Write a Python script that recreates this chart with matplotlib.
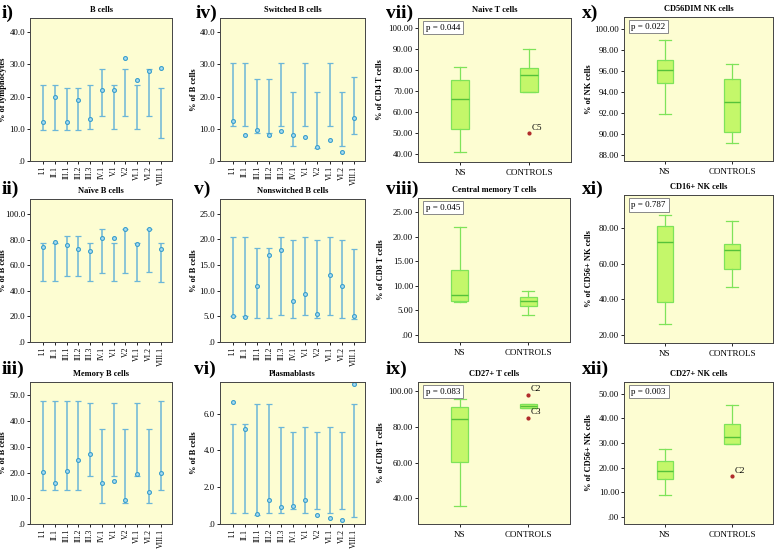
import matplotlib
matplotlib.use("Agg")
import matplotlib.pyplot as plt
from matplotlib.ticker import FuncFormatter

plt.rcParams['font.family'] = ['Liberation Serif', 'DejaVu Serif']

# kategori pasien (panel kiri, error bar = rentang normal, titik = nilai pasien)
pasien = ["I.1", "II.1", "III.1", "III.2", "III.3", "IV.1", "V.1", "V.2", "VI.1", "VI.2", "VIII.1"]

# i) B cells
b_nilai = [12, 20, 12, 19, 13, 22, 22, 32, 25, 28, 29]
b_bawah = [9.5, 9.5, 9.5, 9.5, 9.8, 14, 9.8, 14, 9.8, 14, 7]
b_atas = [23.5, 23.5, 22.8, 22.8, 23.5, 28.5, 23.5, 28.5, 23.5, 28.5, 22.8]

# ii) Naive B cells
nb_nilai = [74, 78, 76, 72.5, 71, 81, 81, 88, 76.5, 88, 73]
nb_bawah = [47.5, 47.5, 51.5, 51.5, 47.5, 54, 47.5, 54, 47.5, 54.5, 47]
nb_atas = [77.5, 77.5, 82.5, 82.5, 77, 88.5, 77, 88.5, 77, 88.5, 77]

# iii) Memory B cells
mb_nilai = [20.2, 15.8, 20.5, 25, 27.3, 16, 16.8, 9.4, 19.5, 12.5, 20]
mb_bawah = [13.3, 13.3, 13.3, 13.3, 18.5, 8, 18.5, 8, 18.5, 8, 13.3]
mb_atas = [48, 48, 48, 48, 47.2, 37, 47, 37, 47.2, 37, 48]

# iv) Switched B cells
sw_nilai = [12.5, 8.2, 9.6, 8.2, 9.3, 8.0, 7.4, 4.2, 6.5, 2.8, 13.5]
sw_bawah = [11, 11, 8.8, 8.8, 11, 4.8, 11, 4.0, 11, 4.8, 8.5]
sw_atas = [30.5, 30.5, 25.5, 25.5, 30.5, 21.3, 30.5, 21.3, 30.5, 21.3, 26]

# v) Nonswitched B cells
ns_nilai = [5.0, 4.9, 10.9, 17.0, 18.0, 8.0, 9.4, 5.5, 13.1, 10.9, 5.1]
ns_bawah = [5.0, 5.0, 4.7, 4.7, 5.2, 4.7, 5.2, 4.7, 5.2, 4.7, 4.5]
ns_atas = [20.5, 20.5, 18.3, 18.3, 20.5, 19.9, 20.5, 19.9, 20.5, 19.9, 18.1]

# vi) Plasmablasts
pb_nilai = [6.65, 5.15, 0.55, 1.3, 0.9, 1.0, 1.3, 0.5, 0.3, 0.2, 7.6]
pb_bawah = [0.6, 0.6, 0.5, 0.6, 0.6, 0.8, 0.6, 0.8, 0.6, 0.8, 0.4]
pb_atas = [5.45, 5.45, 6.5, 6.5, 5.3, 5.0, 5.3, 5.0, 5.3, 5.0, 6.5]

# boxplot: [whisker bawah, Q1, median, Q3, whisker atas]
grup = ["NS", "CONTROLS"]
naive_t = [[41, 52, 66.5, 75.5, 81.5], [69.5, 69.5, 77.5, 81, 90]]
naive_t_outlier = [[], [50]]
naive_t_label = [[], ["C5"]]

cm_t = [[6.7, 6.9, 8.1, 13.2, 22.0], [4.1, 5.8, 6.9, 7.7, 8.9]]
cd27_t = [[36, 60.5, 84.5, 91, 95.5], [90.5, 90.5, 91.5, 92.8, 92.8]]
cd27_t_outlier = [[], [98, 85]]
cd27_t_label = [[], ["C2", "C3"]]

cd56dim = [[91.9, 94.9, 96.1, 97.1, 99.0], [89.1, 90.2, 93.0, 95.2, 96.7]]
cd16 = [[26.5, 38.5, 72, 81, 87], [47, 57, 67.5, 71, 84]]
cd27_nk = [[9, 15.5, 18.5, 22.5, 27.5], [29.5, 29.5, 32.3, 37.5, 45.5]]
cd27_nk_outlier = [[], [16.5]]
cd27_nk_label = [[], ["C2"]]

latar = '#fdfdd2'
biru = '#6cb6d8'
hijau_isi = '#c4f76a'
hijau_garis = '#7ee35a'

fig = plt.figure(figsize=(7.78, 5.49), dpi=100)
W, H = 778, 549


def kotak(x0, y0, x1, y1):
    # koordinat piksel -> koordinat figure
    return fig.add_axes([x0 / W, 1 - y1 / H, (x1 - x0) / W, (y1 - y0) / H])


def fmt(desimal):
    def f(v, pos):
        s = f"{v:.{desimal}f}"
        if s.startswith("0."):
            s = s[1:]
        if s.startswith("-0."):
            s = "-" + s[2:]
        return s
    return FuncFormatter(f)


def gaya(ax, judul, ylabel, xlab):
    ax.set_facecolor(latar)
    ax.set_title(judul, fontsize=6, fontweight='bold', pad=4)
    ax.set_ylabel(ylabel, fontsize=6, fontweight='bold')
    ax.yaxis.set_label_coords(xlab, 0.5)
    ax.tick_params(labelsize=6.3, length=2, width=0.6, pad=1.5)
    for s in ax.spines.values():
        s.set_linewidth(0.7)
        s.set_color('#444444')


def panel_error(pos, judul, ylabel, nilai, bawah, atas, ymax, ticks, xlab):
    ax = kotak(*pos)
    x = list(range(len(pasien)))
    tinggi = [a - b for a, b in zip(atas, bawah)]
    nol = [0] * len(pasien)
    ax.errorbar(x, bawah, yerr=[nol, tinggi], fmt='none', ecolor=biru,
                elinewidth=1.1, capsize=2.5, capthick=0.9)
    ax.plot(x, nilai, 'o', ms=2.8, mfc='#a9dcf0', mec='#3a9fcc', mew=0.8, ls='none')
    ax.set_xticks(x)
    ax.set_xticklabels(pasien, rotation=90)
    ax.set_xlim(-1.1, 10.95)
    ax.set_ylim(0, ymax)
    ax.set_yticks(ticks)
    ax.yaxis.set_major_formatter(fmt(1))
    gaya(ax, judul, ylabel, xlab)
    ax.tick_params(axis='x', labelsize=5.6)
    return ax


def panel_box(pos, judul, ylabel, data, ylim, ticks, pval, xlab, outlier=None, label=None):
    ax = kotak(*pos)
    stats = []
    for i, d in enumerate(data):
        stats.append(dict(whislo=d[0], q1=d[1], med=d[2], q3=d[3], whishi=d[4],
                          fliers=[], label=grup[i]))
    ax.bxp(stats, positions=[1, 2], widths=0.25, patch_artist=True, showfliers=False,
           boxprops=dict(facecolor=hijau_isi, edgecolor=hijau_garis, linewidth=0.9),
           medianprops=dict(color='#55c23a', linewidth=1.0),
           whiskerprops=dict(color=hijau_garis, linewidth=0.9),
           capprops=dict(color=hijau_garis, linewidth=0.9), capwidths=0.17)
    if outlier:
        for i, (ys, ls) in enumerate(zip(outlier, label)):
            for yv, lb in zip(ys, ls):
                ax.plot(i + 1, yv, 'o', ms=2, color='#b02a2a')
                ax.annotate(lb, (i + 1, yv), xytext=(2, 1), textcoords='offset points',
                            fontsize=6.5, va='bottom')
    ax.set_xlim(0.39, 2.61)
    ax.set_ylim(*ylim)
    ax.set_yticks(ticks)
    ax.yaxis.set_major_formatter(fmt(2))
    ax.text(0.05, 0.96, f"p = {pval}", transform=ax.transAxes, fontsize=6.5,
            va='top', ha='left',
            bbox=dict(boxstyle='square,pad=0.3', fc='white', ec='#888888', lw=0.7))
    gaya(ax, judul, ylabel, xlab)
    ax.tick_params(axis='x', labelsize=6.5, pad=3)
    return ax


# kolom 1
panel_error((30, 18, 172, 161), "B cells", "% of lymphocytes", b_nilai, b_bawah, b_atas,
            44.4, [0, 10, 20, 30, 40], -0.165)
panel_error((30, 199, 172, 342), "Naïve B cells", "% of B cells", nb_nilai, nb_bawah, nb_atas,
            111.7, [0, 20, 40, 60, 80, 100], -0.165)
panel_error((30, 382, 172, 524), "Memory B cells", "% of B cells", mb_nilai, mb_bawah, mb_atas,
            55.2, [0, 10, 20, 30, 40, 50], -0.165)

# kolom 2
panel_error((220, 18, 365, 161), "Switched B cells", "% of B cells", sw_nilai, sw_bawah, sw_atas,
            44.4, [0, 10, 20, 30, 40], -0.155)
panel_error((220, 199, 365, 342), "Nonswitched B cells", "% of B cells", ns_nilai, ns_bawah, ns_atas,
            27.86, [0, 5, 10, 15, 20, 25], -0.155)
panel_error((220, 382, 365, 524), "Plasmablasts", "% of B cells", pb_nilai, pb_bawah, pb_atas,
            7.72, [0, 2, 4, 6], -0.155)

# kolom 3
panel_box((418, 18, 571, 162), "Naive T cells", "% of CD4 T cells", naive_t, (36.3, 104.8),
          [40, 50, 60, 70, 80, 90, 100], "0.044", -0.22, naive_t_outlier, naive_t_label)
panel_box((418, 198, 570, 342), "Central memory T cells", "% of CD8 T cells", cm_t, (-1.42, 27.85),
          [0, 5, 10, 15, 20, 25], "0.045", -0.22)
panel_box((418, 382, 570, 524), "CD27+ T cells", "% of CD8 T cells", cd27_t, (25.7, 105),
          [40, 60, 80, 100], "0.083", -0.22, cd27_t_outlier, cd27_t_label)

# kolom 4
panel_box((624, 17, 773, 161), "CD56DIM NK cells", "% of NK cells", cd56dim, (87.39, 101.18),
          [88, 90, 92, 94, 96, 98, 100], "0.022", -0.21)
panel_box((624, 195, 773, 343), "CD16+ NK cells", "% of CD56+ NK cells", cd16, (15.7, 98.3),
          [20, 40, 60, 80], "0.787", -0.21)
panel_box((624, 382, 773, 524), "CD27+ NK cells", "% of CD56+ NK cells", cd27_nk, (-2.85, 54.7),
          [0, 10, 20, 30, 40, 50], "0.003", -0.21, cd27_nk_outlier, cd27_nk_label)

# label panel
huruf = [("i)", 2, 13), ("iv)", 196, 13), ("vii)", 386, 13), ("x)", 582, 13),
         ("ii)", 2, 189), ("v)", 194, 189), ("viii)", 386, 189), ("xi)", 582, 189),
         ("iii)", 2, 369), ("vi)", 194, 369), ("ix)", 386, 369), ("xii)", 582, 369)]
for t, px, py in huruf:
    fig.text(px / W, 1 - py / H, t, fontsize=14, fontweight='bold', va='center', ha='left')

fig.savefig("out.png", dpi=100)
